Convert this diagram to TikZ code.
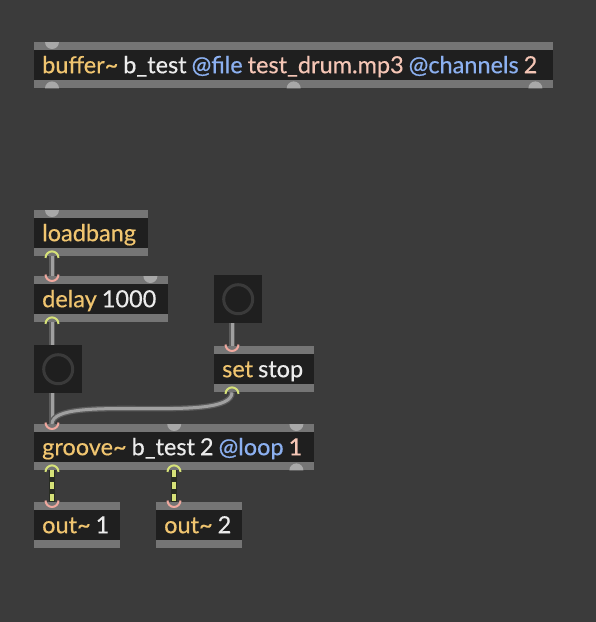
\documentclass[tikz,border=0pt]{standalone}
\usepackage{fontspec}
\setmainfont{Lato}[FakeBold=0.4]
\usetikzlibrary{calc}

\definecolor{patchbg}{RGB}{59,59,59}
\definecolor{bandgray}{RGB}{117,117,117}
\definecolor{boxblack}{RGB}{31,31,31}
\definecolor{portgray}{RGB}{168,168,168}
\definecolor{objname}{RGB}{240,197,112}
\definecolor{argwhite}{RGB}{236,236,236}
\definecolor{attrblue}{RGB}{140,176,240}
\definecolor{attrval}{RGB}{245,198,182}
\definecolor{inpink}{RGB}{240,168,158}
\definecolor{outlime}{RGB}{214,226,120}
\definecolor{cordgray}{RGB}{160,160,160}
\definecolor{cordedge}{RGB}{92,92,92}
\definecolor{sigdark}{RGB}{40,44,34}
\definecolor{ringgray}{RGB}{58,58,58}

\tikzset{
  objbox/.style={anchor=north west, fill=bandgray, inner xsep=8pt, inner ysep=0pt,
    text height=31pt, text depth=15pt, font=\fontsize{23.5}{26}\selectfont,
    path picture={\fill[boxblack] ([yshift=-8pt]path picture bounding box.north west)
      rectangle ([yshift=8pt]path picture bounding box.south east);}},
  bangbox/.style={anchor=north west, fill=boxblack, minimum size=48pt, inner sep=0pt},
  cord/.style={draw=cordedge, double=cordgray, double distance=3pt, line width=1.3pt},
  sigcord/.style={line width=5.6pt, draw=sigdark,
    postaction={draw=outlime, line width=3.2pt, dash pattern=on 7pt off 5pt}},
}

% box text of a given inner width
\newcommand\objtext[2]{\makebox[#1][l]{\spaceskip=5pt #2}}
% port discs and port rings
\newcommand\inport[2][portgray]{\fill[#1] (#2) ++(-7pt,0) arc[start angle=180,end angle=360,radius=7pt] -- cycle;}
\newcommand\outport[2][portgray]{\fill[#1] (#2) ++(-7pt,0) arc[start angle=180,end angle=0,radius=7pt] -- cycle;}
\newcommand\inring[1]{\draw[inpink, line width=2pt] (#1) ++(-6.5pt,1.5pt) arc[start angle=180,end angle=360,radius=6.5pt];}
\newcommand\outring[1]{\draw[outlime, line width=2pt] (#1) ++(-6.5pt,-1.5pt) arc[start angle=180,end angle=0,radius=6.5pt];}

\begin{document}
\begin{tikzpicture}[x=1pt, y=-1pt]
\fill[patchbg] (0,0) rectangle (596,622);
\useasboundingbox (0,0) rectangle (596,622);

% Objects
\node[objbox] (buf) at (34,42) {\objtext{503pt}{\textcolor{objname}{buffer\textasciitilde} \textcolor{argwhite}{b\_test} \textcolor{attrblue}{@file} \textcolor{attrval}{test\_drum.mp3} \textcolor{attrblue}{@channels} \textcolor{attrval}{2}}};
\node[objbox] (lb) at (34,210) {\objtext{98pt}{\textcolor{objname}{loadbang}}};
\node[objbox] (dl) at (34,276) {\objtext{118pt}{\textcolor{objname}{delay} \textcolor{argwhite}{1000}}};
\node[objbox] (ss) at (214,346) {\objtext{84pt}{\textcolor{objname}{set} \textcolor{argwhite}{stop}}};
\node[objbox] (gr) at (34,424) {\objtext{264pt}{\textcolor{objname}{groove\textasciitilde} \textcolor{argwhite}{b\_test 2} \textcolor{attrblue}{@loop} \textcolor{attrval}{1}}};
\node[objbox] (o1) at (34,502) {\objtext{70pt}{\textcolor{objname}{out\textasciitilde} \textcolor{argwhite}{1}}};
\node[objbox] (o2) at (156,502) {\objtext{70pt}{\textcolor{objname}{out\textasciitilde} \textcolor{argwhite}{2}}};

% Bangs
\node[bangbox] (bg1) at (214,275) {};
\node[bangbox] (bg2) at (34,345) {};
\draw[ringgray, line width=3pt] (bg1) circle[radius=14.5pt];
\draw[ringgray, line width=3pt] (bg2) circle[radius=14.5pt];

% Port coordinates
\coordinate (lb-out) at ($(lb.south west)+(18,0)$);
\coordinate (dl-in) at ($(dl.north west)+(18,0)$);
\coordinate (dl-out) at ($(dl.south west)+(18,0)$);
\coordinate (bg1-out) at ($(bg1.south west)+(18,0)$);
\coordinate (bg2-in) at ($(bg2.north west)+(18,0)$);
\coordinate (bg2-out) at ($(bg2.south west)+(18,0)$);
\coordinate (ss-in) at ($(ss.north west)+(18,0)$);
\coordinate (ss-out) at ($(ss.south west)+(18,0)$);
\coordinate (gr-in) at ($(gr.north west)+(18,0)$);
\coordinate (gr-out1) at ($(gr.south west)+(18,0)$);
\coordinate (gr-out2) at ($(gr.south west)+(140,0)$);
\coordinate (o1-in) at ($(o1.north west)+(18,0)$);
\coordinate (o2-in) at ($(o2.north west)+(18,0)$);

% Free ports
\inport{$(buf.north west)+(18,0)$}
\outport{$(buf.south west)+(18,0)$}
\outport{buf.south}
\outport{$(buf.south east)+(-18,0)$}
\inport{$(lb.north west)+(18,0)$}
\inport{$(dl.north east)+(-18,0)$}
\inport{gr.north}
\inport{$(gr.north east)+(-18,0)$}
\outport{$(gr.south east)+(-18,0)$}

% Patch cords
\draw[cord] (lb-out) -- (dl-in);
\draw[cord] (dl-out) -- (bg2-in);
\draw[cord] (bg2-out) -- (gr-in);
\draw[cord] (bg1-out) -- (ss-in);
\draw[cord] (ss-out) .. controls ($(ss-out)+(0,33)$) and ($(gr-in)+(0,-32)$) .. (gr-in);
\draw[sigcord] (gr-out1) -- (o1-in);
\draw[sigcord] (gr-out2) -- (o2-in);

% Connected ports
\outring{lb-out}
\inring{dl-in}
\outring{dl-out}
\inring{ss-in}
\outring{ss-out}
\inring{gr-in}
\outring{gr-out1}
\outring{gr-out2}
\inring{o1-in}
\inring{o2-in}
\end{tikzpicture}
\end{document}
